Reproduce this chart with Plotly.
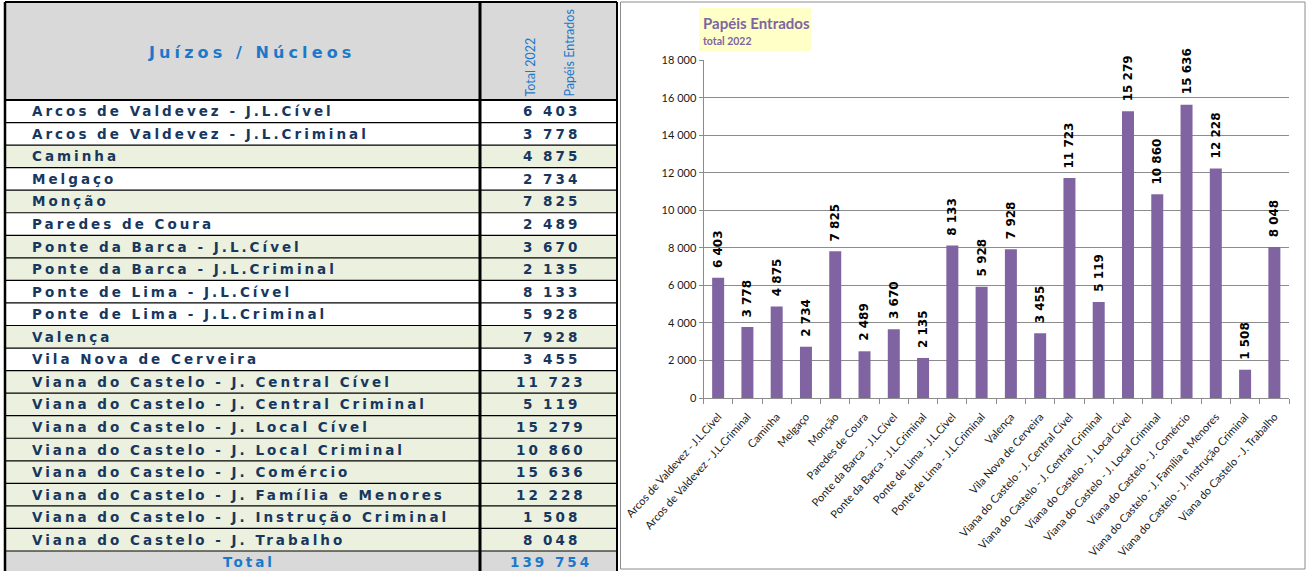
import plotly.graph_objects as go

# ---- data -----------------------------------------------------------------
COURTS = [
    "Arcos de Valdevez - J.L.Cível",
    "Arcos de Valdevez - J.L.Criminal",
    "Caminha",
    "Melgaço",
    "Monção",
    "Paredes de Coura",
    "Ponte da Barca - J.L.Cível",
    "Ponte da Barca - J.L.Criminal",
    "Ponte de Lima - J.L.Cível",
    "Ponte de Lima - J.L.Criminal",
    "Valença",
    "Vila Nova de Cerveira",
    "Viana do Castelo - J. Central Cível",
    "Viana do Castelo - J. Central Criminal",
    "Viana do Castelo - J. Local Cível",
    "Viana do Castelo - J. Local Criminal",
    "Viana do Castelo - J. Comércio",
    "Viana do Castelo - J. Família e Menores",
    "Viana do Castelo - J. Instrução Criminal",
    "Viana do Castelo - J. Trabalho",
]
PAPEIS_2022 = [6403, 3778, 4875, 2734, 7825, 2489, 3670, 2135, 8133, 5928,
               7928, 3455, 11723, 5119, 15279, 10860, 15636, 12228, 1508, 8048]
Y_TICKS = [0, 2000, 4000, 6000, 8000, 10000, 12000, 14000, 16000, 18000]

TABLE_HEADER = "Juízos / Núcleos"
VALUE_HEADER = ["Total 2022", "Papéis Entrados"]
TOTAL_LABEL = "Total"
CHART_TITLE = "Papéis Entrados"
CHART_SUBTITLE = "total 2022"

# ---- styling ----------------------------------------------------------------
W, H = 1307, 571
ROW_SHADED = [False, False, True, False, True, False, True, True, False, False,
              True, False, True, True, True, True, True, True, True, True]
NAVY = "#17375E"
BLUE = "#1C78C8"
GREEN_ROW = "#EBF1DE"
GREY_ROW = "#D9D9D9"
PURPLE = "#8064A2"
GRID = "#8C8C8C"
TABLE_FONT = "DejaVu Sans"
CHART_FONT = "Lato, Liberation Sans, sans-serif"


def fx(p):
    return p / W


def fy(p):
    return 1 - p / H


def fmt(v):
    return f"{v:,}".replace(",", " ")


def spaced(text, px):
    return f'<span style="letter-spacing:{px}px"><b>{text}</b></span>'


fig = go.Figure()

# ---- bar chart --------------------------------------------------------------
fig.add_trace(go.Bar(
    x=COURTS, y=PAPEIS_2022, width=0.41,
    marker=dict(color=PURPLE, line=dict(width=0)),
    hoverinfo="skip", showlegend=False,
))

annotations = []
for court, v in zip(COURTS, PAPEIS_2022):
    annotations.append(dict(
        x=court, y=v, xref="x", yref="y", text=f"<b>{fmt(v)}</b>",
        textangle=-90, xanchor="center", yanchor="bottom", yshift=8,
        showarrow=False, font=dict(family=TABLE_FONT, size=12, color="#000000"),
    ))

# ---- table --------------------------------------------------------------
TL, TR, TDIV = 5, 617, 480
HEAD_TOP, HEAD_BOT = 2, 100
RH = 22.55
n = len(COURTS)

shapes = []
shapes.append(dict(type="rect", xref="paper", yref="paper",
                   x0=fx(TL), x1=fx(TR), y0=fy(HEAD_TOP), y1=fy(HEAD_BOT),
                   fillcolor=GREY_ROW, line=dict(width=0), layer="below"))
for i in range(n + 1):
    y0 = HEAD_BOT + i * RH
    if i < n:
        fill = GREEN_ROW if ROW_SHADED[i] else "#FFFFFF"
    else:
        fill = GREY_ROW
    shapes.append(dict(type="rect", xref="paper", yref="paper",
                       x0=fx(TL), x1=fx(TR), y0=fy(y0), y1=fy(y0 + RH),
                       fillcolor=fill, line=dict(width=0), layer="below"))
# grid lines of the table
for i in range(n + 2):
    y = HEAD_BOT + i * RH
    shapes.append(dict(type="line", xref="paper", yref="paper",
                       x0=fx(TL), x1=fx(TR), y0=fy(y), y1=fy(y),
                       line=dict(color="#000000", width=2 if i == 0 else 1.2)))
shapes.append(dict(type="line", xref="paper", yref="paper",
                   x0=fx(TL), x1=fx(TR), y0=fy(HEAD_TOP), y1=fy(HEAD_TOP),
                   line=dict(color="#000000", width=2)))
for xv, wv in [(TL, 2.5), (TDIV, 3), (TR, 2)]:
    shapes.append(dict(type="line", xref="paper", yref="paper",
                       x0=fx(xv), x1=fx(xv), y0=fy(HEAD_TOP), y1=0,
                       line=dict(color="#000000", width=wv)))

# header texts
annotations.append(dict(
    x=fx(251), y=fy(52), xref="paper", yref="paper", showarrow=False,
    text=spaced(TABLE_HEADER, 4.1), xanchor="center", yanchor="middle",
    font=dict(family=TABLE_FONT, size=16, color=BLUE)))
for xc, line in zip([530, 569], VALUE_HEADER):
    annotations.append(dict(
        x=fx(xc), y=fy(99), xref="paper", yref="paper", showarrow=False,
        text=line, textangle=-90, xanchor="center", yanchor="bottom",
        font=dict(family=CHART_FONT, size=12.5, color=BLUE)))

# body rows
for i, (court, v) in enumerate(zip(COURTS, PAPEIS_2022)):
    yc = HEAD_BOT + (i + 0.5) * RH
    annotations.append(dict(
        x=fx(30), y=fy(yc), xref="paper", yref="paper", showarrow=False,
        text=spaced(court, 3.0), xanchor="left", yanchor="middle",
        font=dict(family=TABLE_FONT, size=13.5, color=NAVY)))
    annotations.append(dict(
        x=fx(551), y=fy(yc), xref="paper", yref="paper", showarrow=False,
        text=spaced(fmt(v), 3), xanchor="center", yanchor="middle",
        font=dict(family=TABLE_FONT, size=13.5, color=NAVY)))

# total row
yc = HEAD_BOT + (n + 0.5) * RH
annotations.append(dict(
    x=fx(249), y=fy(yc), xref="paper", yref="paper", showarrow=False,
    text=spaced(TOTAL_LABEL, 3.0), xanchor="center", yanchor="middle",
    font=dict(family=TABLE_FONT, size=13.5, color=BLUE)))
annotations.append(dict(
    x=fx(551), y=fy(yc), xref="paper", yref="paper", showarrow=False,
    text=spaced(fmt(sum(PAPEIS_2022)), 3), xanchor="center", yanchor="middle",
    font=dict(family=TABLE_FONT, size=13.5, color=BLUE)))

# ---- chart frame and title box ------------------------------------------
shapes.append(dict(type="rect", xref="paper", yref="paper",
                   x0=fx(620.5), x1=fx(1305), y0=fy(2), y1=fy(569),
                   line=dict(color=GRID, width=1), fillcolor="rgba(0,0,0,0)"))
shapes.append(dict(type="rect", xref="paper", yref="paper",
                   x0=fx(699), x1=fx(811), y0=fy(8), y1=fy(51),
                   fillcolor="#FFFFC8", line=dict(width=0), layer="below"))
annotations.append(dict(
    x=fx(701), y=fy(22.5), xref="paper", yref="paper", showarrow=False,
    text=f"<b>{CHART_TITLE}</b>", xanchor="left", yanchor="middle",
    font=dict(family=CHART_FONT, size=15, color=PURPLE)))
annotations.append(dict(
    x=fx(701), y=fy(41), xref="paper", yref="paper", showarrow=False,
    text=f"<b>{CHART_SUBTITLE}</b>", xanchor="left", yanchor="middle",
    font=dict(family=CHART_FONT, size=10.5, color=PURPLE)))

fig.update_layout(
    width=W, height=H, autosize=False,
    margin=dict(l=0, r=0, t=0, b=0, autoexpand=False),
    paper_bgcolor="#FFFFFF", plot_bgcolor="#FFFFFF",
    bargap=0.59,
    shapes=shapes, annotations=annotations,
    xaxis=dict(
        domain=[fx(703.5), fx(1289)], type="category", automargin=False,
        tickangle=-48, tickson="boundaries", ticks="outside", ticklen=5,
        ticklabelstandoff=7,
        tickcolor=GRID, showline=True, linecolor=GRID, linewidth=1,
        showgrid=False, tickfont=dict(family=CHART_FONT, size=11, color="#1A1A1A"),
    ),
    yaxis=dict(
        domain=[fy(398), fy(60.3)], range=[0, 18000], automargin=False,
        tickvals=Y_TICKS, ticktext=[fmt(t) for t in Y_TICKS],
        showgrid=True, gridcolor=GRID, gridwidth=1,
        showline=True, linecolor=GRID, linewidth=1,
        ticks="outside", ticklen=4, tickcolor=GRID, zeroline=False,
        tickfont=dict(family=CHART_FONT, size=11, color="#1A1A1A"),
    ),
)

fig.write_html("out.html")
